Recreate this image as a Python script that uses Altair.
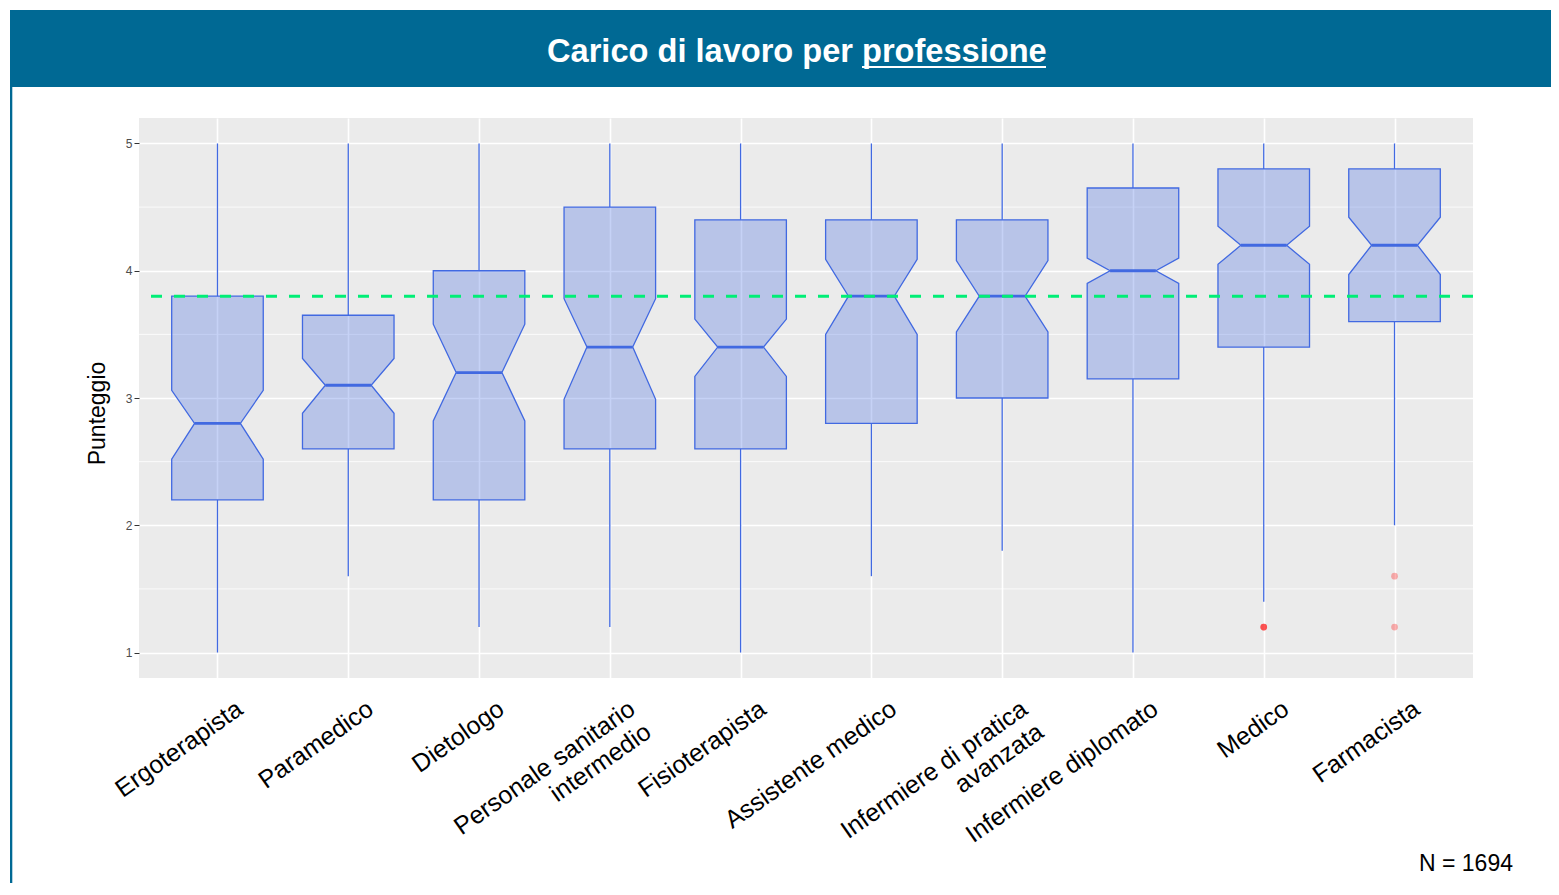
import json
import altair as alt
import pandas as pd

# ---------------- data ----------------
professions = [
    "Ergoterapista", "Paramedico", "Dietologo", "Personale sanitario\nintermedio",
    "Fisioterapista", "Assistente medico", "Infermiere di pratica\navanzata",
    "Infermiere diplomato", "Medico", "Farmacista",
]
whisker_low = [1.0, 1.6, 1.2, 1.2, 1.0, 1.6, 1.8, 1.0, 1.4, 2.0]
q1 = [2.2, 2.6, 2.2, 2.6, 2.6, 2.8, 3.0, 3.15, 3.4, 3.6]
notch_low = [2.52, 2.88, 2.82, 2.99, 3.17, 3.50, 3.52, 3.90, 4.05, 3.97]
median = [2.8, 3.1, 3.2, 3.4, 3.4, 3.8, 3.8, 4.0, 4.2, 4.2]
notch_high = [3.06, 3.31, 3.58, 3.78, 3.62, 4.09, 4.08, 4.10, 4.35, 4.42]
q3 = [3.8, 3.65, 4.0, 4.5, 4.4, 4.4, 4.4, 4.65, 4.8, 4.8]
whisker_high = [5.0, 5.0, 5.0, 5.0, 5.0, 5.0, 5.0, 5.0, 5.0, 5.0]
outlier_prof = ["Medico", "Medico", "Medico", "Farmacista", "Farmacista"]
outlier_val = [1.2, 1.2, 1.2, 1.6, 1.2]
reference_value = 3.8
y_ticks = [1, 2, 3, 4, 5]
y_minor = [1.5, 2.5, 3.5, 4.5]
title_main = "Carico di lavoro per"
title_under = "professione"
n_label = "N = 1694"

# ---------------- styling ----------------
FONT = "Liberation Sans"
BLUE = "#4169E1"
HEADER = "#006994"
BOX_HALF = 0.35
W, H = 1334, 560

# ---------------- tables ----------------
idx = list(range(1, len(professions) + 1))
stats = pd.DataFrame({
    "prof": professions, "idx": idx, "wlo": whisker_low, "q1": q1,
    "med": median, "q3": q3, "whi": whisker_high,
})
stats["ml"] = stats["idx"] - BOX_HALF / 2
stats["mr"] = stats["idx"] + BOX_HALF / 2

rows = []
for i, p in enumerate(professions):
    for yv, frac in [(q1[i], 1.0), (notch_low[i], 1.0), (median[i], 0.5),
                     (notch_high[i], 1.0), (q3[i], 1.0)]:
        rows.append({"prof": p, "y": yv,
                     "xl": idx[i] - BOX_HALF * frac, "xr": idx[i] + BOX_HALF * frac})
poly = pd.DataFrame(rows)

out = pd.DataFrame({"idx": [professions.index(p) + 1 for p in outlier_prof], "v": outlier_val})
ref = pd.DataFrame({"v": [reference_value]})
minor = pd.DataFrame({"v": y_minor})
one = pd.DataFrame({"a": [0]})

label_arrays = [p.split("\n") for p in professions]
label_expr = json.dumps(label_arrays) + "[datum.value - 1]"

x_scale = alt.Scale(domain=[0.4, 10.6], nice=False, zero=False)
y_scale = alt.Scale(domain=[0.8, 5.2], nice=False, zero=False)
x_axis = alt.Axis(values=idx, labelExpr=label_expr, title=None, domain=False, ticks=False,
                  grid=True, gridColor="white", gridWidth=1.6,
                  labelAngle=325, labelAlign="right", labelBaseline="top",
                  labelFontSize=25, labelColor="black", labelPadding=18, labelOffset=15,
                  labelLineHeight=28, labelOverlap=False, labelFlush=False, labelBound=False,
                  labelLimit=0)
y_axis = alt.Axis(values=y_ticks, title="Punteggio", domain=False, grid=True,
                  gridColor="white", gridWidth=1.6, tickColor="#333333", tickSize=5,
                  tickWidth=1, labelFontSize=12, labelColor="#4D4D4D", labelPadding=2,
                  titleFontSize=23, titleFontWeight="normal", titleColor="black",
                  titleX=-35, titleY=295, titleAngle=270, titleBaseline="alphabetic",
                  titleAlign="center")


def X(field):
    return alt.X(field, type="quantitative", scale=x_scale, axis=x_axis)


def Y(field):
    return alt.Y(field, type="quantitative", scale=y_scale, axis=y_axis)


minor_grid = alt.Chart(minor).mark_rule(color="white", strokeWidth=0.8).encode(y=Y("v"))

whisk_up = alt.Chart(stats).mark_rule(color=BLUE, strokeWidth=1.3).encode(
    x=X("idx"), y=Y("q3"), y2="whi")
whisk_dn = alt.Chart(stats).mark_rule(color=BLUE, strokeWidth=1.3).encode(
    x=X("idx"), y=Y("wlo"), y2="q1")

boxes = alt.Chart(poly).mark_area(orient="horizontal", fill=BLUE, fillOpacity=0.3,
                                  stroke=BLUE, strokeWidth=1.3).encode(
    y=Y("y"), x=X("xl"), x2="xr", detail="prof:N")

medians = alt.Chart(stats).mark_rule(color=BLUE, strokeWidth=2.8).encode(
    x=X("ml"), x2="mr", y=Y("med"))

outliers = alt.Chart(out).mark_circle(color="red", opacity=0.3, size=45).encode(
    x=X("idx"), y=Y("v"))

ref_line = alt.Chart(ref).mark_rule(color="#00EE76", strokeWidth=3, strokeDash=[11, 12]).encode(
    y=Y("v"))

header = alt.Chart(one).mark_rect(color=HEADER).encode(
    x=alt.value(-129), x2=alt.value(1420), y=alt.value(-108), y2=alt.value(-31))
border = alt.Chart(one).mark_rect(color=HEADER).encode(
    x=alt.value(-129), x2=alt.value(-126.7), y=alt.value(-31), y2=alt.value(780))
t1 = alt.Chart(one).mark_text(text=title_main, font=FONT, fontSize=32.6, fontWeight="bold",
                              color="white", align="right", baseline="alphabetic").encode(
    x=alt.value(714), y=alt.value(-56))
t2 = alt.Chart(one).mark_text(text=title_under, font=FONT, fontSize=32.6, fontWeight="bold",
                              color="white", align="left", baseline="alphabetic").encode(
    x=alt.value(723), y=alt.value(-56))
underline = alt.Chart(one).mark_rect(color="white").encode(
    x=alt.value(723), x2=alt.value(907), y=alt.value(-52), y2=alt.value(-50))
n_text = alt.Chart(one).mark_text(text=n_label, font=FONT, fontSize=23, color="black",
                                  align="right", baseline="alphabetic").encode(
    x=alt.value(1374), y=alt.value(753))

chart = alt.layer(
    minor_grid, whisk_up, whisk_dn, boxes, medians, outliers, ref_line,
    header, border, t1, t2, underline, n_text,
).properties(
    width=W, height=H, autosize="none",
    padding={"left": 131, "top": 110, "right": 78, "bottom": 205},
).configure(
    font=FONT, background="white",
).configure_view(
    fill="#EBEBEB", stroke=None,
)

chart.save("out.html", embed_options={"renderer": "svg", "actions": False})
